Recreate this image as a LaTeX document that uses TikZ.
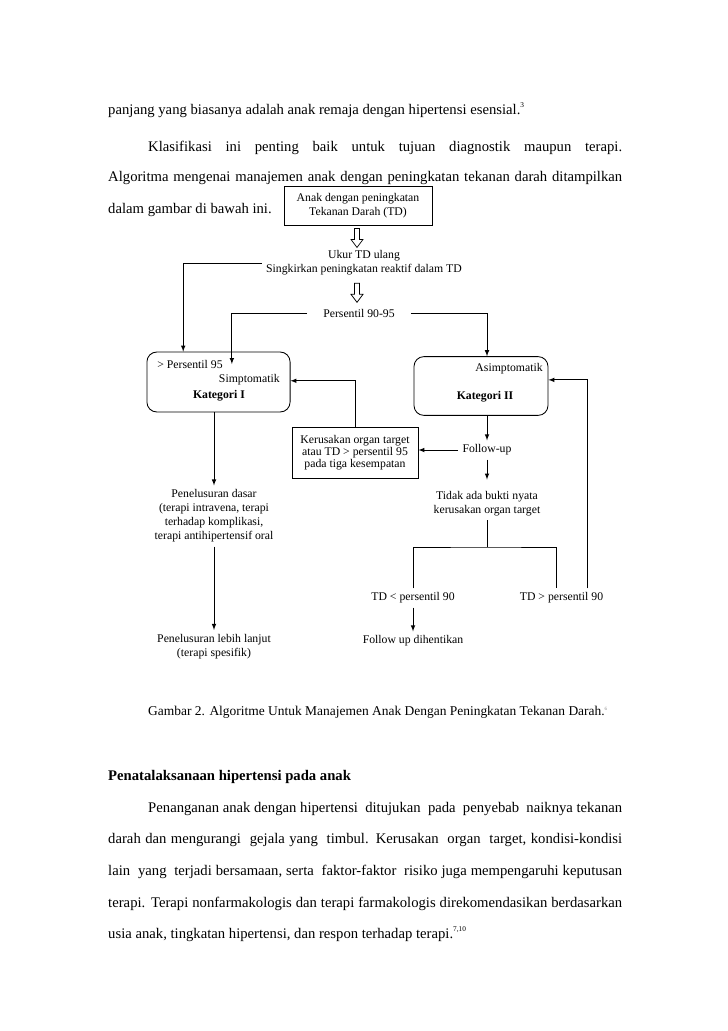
\documentclass[tikz,border=0pt]{standalone}
\usepackage{fontspec}
\setmainfont{Liberation Serif}
\usepackage{tikz}
\usetikzlibrary{positioning}
\usetikzlibrary{arrows}

\begin{document}
\begin{tikzpicture}[x=0.8174pt,y=-0.8174pt,>=latex]

\tikzset{body line/.style={
		anchor=base west,
		inner sep=0pt,
		font=\fontsize{12}{14}\selectfont
	},
	flow text/.style={
		align=center,
		font=\fontsize{9.6}{11.4}\selectfont
	},
	flow bold/.style={
		flow text,
		font=\fontsize{9.6}{11.4}\selectfont\bfseries
	},
	flow box/.style={
		flow text,
		draw,
		line width=0.7pt,
		inner sep=1pt
	},
	round box/.style={
		draw,
		line width=0.7pt,
		rounded corners=8pt
	},
	flow line/.style={line width=0.7pt},
	hollow arrow/.pic={
		\draw[line width=0.6pt] (-2.5,0) -- (-2.5,11) -- (-6,11) -- (0,19) -- (6,11) -- (2.5,11) -- (2.5,0) -- cycle;
	}
}

\fill[white] (0,0) rectangle (728,1031);

\node[body line] (l1) at (108,114) {panjang yang biasanya adalah anak remaja dengan hipertensi esensial.\raisebox{5pt}{\fontsize{6}{6}\selectfont 3}};
\node[body line] (l2) at (148,151) {\makebox[387.4pt][s]{Klasifikasi ini penting baik untuk tujuan diagnostik maupun terapi.}};
\node[body line] (l3) at (108,181) {\makebox[420.1pt][s]{Algoritma mengenai manajemen anak dengan peningkatan tekanan darah ditampilkan}};
\node[body line] (l4) at (108,213) {dalam gambar di bawah ini.};

\node[flow box, minimum width=121pt, minimum height=32pt] (anak) at (358,206) {Anak dengan peningkatan\\Tekanan Darah (TD)};
\node[flow text] (ukur) at (364,263) {Ukur TD ulang\\Singkirkan peningkatan reaktif dalam TD};
\node[flow text, inner xsep=13pt] (pers) at (359,313) {Persentil 90-95};
\pic at ([yshift=-2pt]anak.south -| 357,0) {hollow arrow};
\pic at ([yshift=-3pt]ukur.south -| 357,0) {hollow arrow};

\node[round box, minimum width=117pt, minimum height=49pt] (katI) at (218.5,382) {};
\node[flow text, anchor=west] (p95) at (153,364) {> Persentil 95};
\node[flow text, anchor=east] (simp) at (284,380) {Simptomatik};
\node[flow bold] (kI) at (219,396) {Kategori I};

\node[round box, minimum width=109.5pt, minimum height=48pt] (katII) at (481,386) {};
\node[flow text, anchor=east] (asimp) at (547,369) {Asimptomatik};
\node[flow bold] (kII) at (485,397) {Kategori II};

\node[flow text] (fu) at (487,450) {Follow-up};
\node[flow box, minimum width=103pt, minimum height=41.7pt, font=\fontsize{9.6}{9.8}\selectfont] (kerus) at (355,452.5) {Kerusakan organ target\\atau TD > persentil 95\\pada tiga kesempatan};
\node[flow text] (tidak) at (487,503.5) {Tidak ada bukti nyata\\kerusakan organ target};
\coordinate (cabang) at (487,547);
\node[flow text] (tdlo) at (413,598) {TD < persentil 90};
\node[flow text] (tdhi) at (561.5,598) {TD > persentil 90};
\node[flow text] (stop) at (413,641) {Follow up dihentikan};

\node[flow text] (dasar) at (214,516) {Penelusuran dasar\\(terapi intravena, terapi\\terhadap komplikasi,\\terapi antihipertensif oral};
\node[flow text] (lanjut) at (214,646.5) {Penelusuran lebih lanjut\\(terapi spesifik)};

\draw[flow line, ->] (ukur.west) -| ([xshift=30pt]katI.north west);
\draw[flow line, ->] (pers.west) -| ([xshift=4pt]p95.east);
\draw[flow line, ->] (pers.east) -| (katII.north -| fu);
\draw[flow line, ->] (katII.south -| fu) -- (fu);
\draw[flow line, ->] (fu.west) -- (fu.west -| kerus.east);
\draw[flow line, ->] (kerus.north) |- ([yshift=1pt]katI.east);
\draw[flow line, ->] (fu) -- ([yshift=6pt]tidak.north);
\draw[flow line] (tidak) -- (cabang);
\draw[flow line] (tdlo.north) |- (cabang) -| ([xshift=-4pt]tdhi.north);
\draw[flow line, ->] ([xshift=21pt]tdhi.north) |- ([yshift=5pt]katII.east);
\draw[flow line, ->] (tdlo) -- (stop);
\draw[flow line, ->] (katI.south -| dasar) -- (dasar);
\draw[flow line, ->] (dasar) -- (lanjut);

\node[body line, font=\fontsize{11}{13}\selectfont] (cap) at (148,715) {Gambar 2. Algoritme Untuk Manajemen Anak Dengan Peningkatan Tekanan Darah.\raisebox{4pt}{\color{gray}\fontsize{4}{4}\selectfont 6}};

\node[body line, font=\fontsize{12}{14}\selectfont\bfseries] (judul) at (108,780) {Penatalaksanaan hipertensi pada anak};
\node[body line] (p1) at (148,812) {\makebox[387.4pt][s]{Penanganan anak dengan hipertensi\ \ ditujukan\ \ pada\ \ penyebab\ \ naiknya tekanan}};
\node[body line] (p2) at (108,843) {\makebox[420.1pt][s]{darah dan mengurangi\ \ gejala yang\ \ timbul. Kerusakan\ \ organ\ \ target, kondisi-kondisi}};
\node[body line] (p3) at (108,875) {\makebox[420.1pt][s]{lain\ \ yang\ \ terjadi bersamaan, serta\ \ faktor-faktor\ \ risiko juga mempengaruhi keputusan}};
\node[body line] (p4) at (108,907) {\makebox[420.1pt][s]{terapi. Terapi nonfarmakologis dan terapi farmakologis direkomendasikan berdasarkan}};
\node[body line] (p5) at (108,938) {usia anak, tingkatan hipertensi, dan respon terhadap terapi.\raisebox{5pt}{\fontsize{6}{6}\selectfont 7,10}};

\end{tikzpicture}
\end{document}
